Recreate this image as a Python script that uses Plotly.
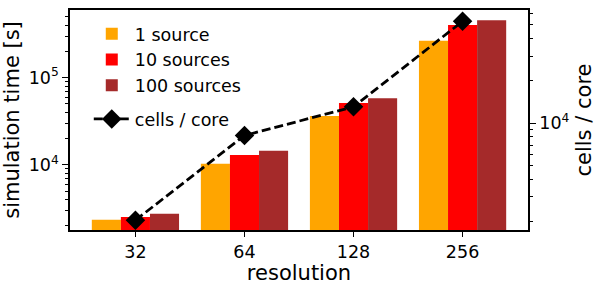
import plotly.graph_objects as go

resolutions = ["32", "64", "128", "256"]
time_1_source = [2350, 10300, 36400, 265000]
time_10_sources = [2540, 13000, 51300, 401000]
time_100_sources = [2770, 14500, 58100, 454000]
cells_per_core = [2048, 8192, 13107, 53000]

series_names = ["1 source", "10 sources", "100 sources"]
series_colors = ["#FFA500", "#FF0000", "#A52A2A"]

FS = 17.5
font = dict(family="DejaVu Sans", size=FS, color="black")

fig = go.Figure()
for i, (name, vals, col) in enumerate(zip(series_names, [time_1_source, time_10_sources, time_100_sources], series_colors)):
    fig.add_trace(go.Bar(x=resolutions, y=vals, name=name, marker=dict(color=col, line=dict(width=0)),
                         legendgroup=f"b{i}", legend="legend"))

fig.add_trace(go.Scatter(x=resolutions, y=cells_per_core, name="cells / core", yaxis="y2",
                         mode="lines+markers", legend="legend2",
                         line=dict(color="black", width=2.8, dash="9px,4px"),
                         marker=dict(symbol="diamond", size=15, color="black")))

minor_left = [2000, 3000, 4000, 5000, 6000, 7000, 8000, 9000,
              20000, 30000, 40000, 50000, 60000, 70000, 80000, 90000,
              200000, 300000, 400000, 500000]
minor_right = [2000, 3000, 4000, 5000, 6000, 7000, 8000, 9000,
               20000, 30000, 40000, 50000, 60000]

fig.update_layout(
    width=598, height=285,
    margin=dict(l=70, r=70, t=10, b=55, autoexpand=False),
    paper_bgcolor="white", plot_bgcolor="white",
    font=font,
    barmode="group", bargap=0.2, bargroupgap=0,
    showlegend=True,
    legend=dict(x=0.041, y=0.973, xanchor="left", yanchor="top", bgcolor="rgba(255,255,255,0)",
                font=dict(family="DejaVu Sans", size=FS), tracegroupgap=0, itemwidth=36),
    legend2=dict(x=0.041, y=(230 - 119) / 220, xanchor="left", yanchor="middle", bgcolor="rgba(255,255,255,0)",
                 font=dict(family="DejaVu Sans", size=FS), itemwidth=36),
    xaxis=dict(type="category", range=[-0.6, 3.6], showline=True, linecolor="black", linewidth=1.5,
               mirror=True, ticks="outside", ticklen=5, tickcolor="black", showgrid=False, automargin=False,
               title=dict(text="resolution", standoff=2), zeroline=False),
    yaxis=dict(type="log", range=[3.255, 5.775], showline=True, linecolor="black", linewidth=1.5,
               ticks="outside", ticklen=6, tickcolor="black", showgrid=False, automargin=False,
               tickvals=[1e4, 1e5], ticktext=["10<sup>4</sup>", "10<sup>5</sup>"],
               minor=dict(tickvals=minor_left, ticks="outside", ticklen=3.5, tickcolor="black", showgrid=False),
               title=dict(text="simulation time [s]", standoff=6), zeroline=False),
    yaxis2=dict(type="log", range=[3.242, 4.805], overlaying="y", side="right", showline=True,
                linecolor="black", linewidth=1.5, ticks="outside", ticklen=6, tickcolor="black",
                showgrid=False, automargin=False, tickvals=[1e4], ticktext=["10<sup>4</sup>"],
                minor=dict(tickvals=minor_right, ticks="outside", ticklen=3.5, tickcolor="black", showgrid=False),
                title=dict(text="cells / core", standoff=8), zeroline=False),
)

fig.write_html("out.html", config={"displayModeBar": False},
               post_script="document.body.style.margin='0';document.body.style.padding='0';")
